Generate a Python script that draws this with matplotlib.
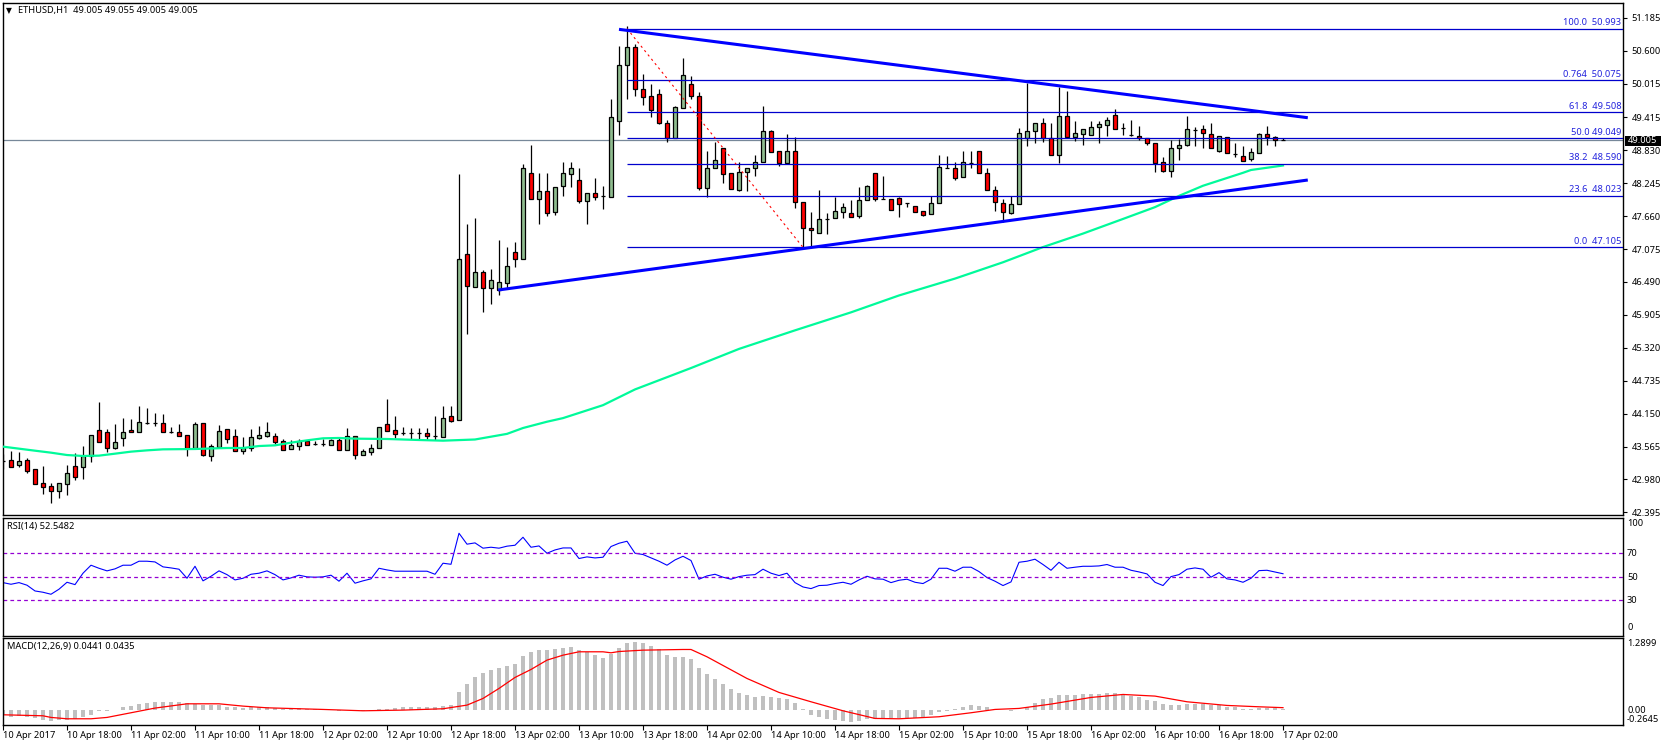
import numpy as np
import matplotlib
matplotlib.use('Agg')
import matplotlib.pyplot as plt
from matplotlib.patches import Rectangle

WIDTH, HEIGHT = 1663, 746
FONT = 'Noto Sans'

# hourly candles, 10 Apr 10:00 to 17 Apr 02:00
open_prices = [
    43.314, 43.32, 43.243, 43.32, 43.16, 42.911, 42.857, 42.78, 42.905, 43.213,
    43.207, 43.397, 43.853, 43.817, 43.545, 43.722, 43.853, 43.817, 43.989, 43.989,
    43.977, 43.829, 43.817, 43.764, 43.545, 43.977, 43.403, 43.562, 43.871, 43.746,
    43.491, 43.539, 43.722, 43.758, 43.746, 43.657, 43.527, 43.58, 43.657, 43.616,
    43.61, 43.598, 43.675, 43.509, 43.746, 43.42, 43.474, 43.545, 43.959, 43.853,
    43.811, 43.8, 43.8, 43.8, 43.758, 43.74, 44.1, 44.03, 46.98, 46.405,
    46.66, 46.388, 46.34, 46.477, 47.016, 46.903, 48.42, 47.97, 48.101, 47.739,
    48.2, 48.415, 48.296, 47.935, 48.065, 48.012, 48.006, 49.357, 50.34, 50.66,
    49.914, 49.789, 49.825, 49.309, 49.043, 49.588, 50.002, 49.789, 48.154, 48.509,
    48.865, 48.42, 48.13, 48.438, 48.509, 48.616, 49.167, 48.812, 48.61, 48.812,
    47.905, 47.443, 47.366, 47.609, 47.621, 47.739, 47.71, 47.668, 47.941, 48.421,
    47.958, 47.958, 47.976, 47.899, 47.834, 47.745, 47.692, 47.893, 48.521, 48.509,
    48.349, 48.61, 48.811, 48.421, 48.118, 47.899, 47.721, 47.869, 49.049, 49.167,
    49.309, 49.043, 48.752, 49.434, 49.072, 49.12, 49.108, 49.238, 49.286, 49.451,
    49.22, 49.102, 49.09, 49.049, 48.954, 48.616, 48.456, 48.865, 48.918, 49.197,
    49.203, 49.114, 48.817, 49.06, 48.758, 48.723, 48.681, 48.788, 49.114, 49.073,
    49.005]
high_prices = [
    43.432, 43.485, 43.468, 43.355, 43.16, 43.219, 42.917, 42.911, 43.231, 43.444,
    43.574, 43.764, 44.356, 43.871, 43.959, 44.072, 44.048, 44.285, 44.25, 44.161,
    44.143, 43.912, 43.959, 43.764, 43.995, 43.977, 43.604, 43.948, 43.871, 43.871,
    43.728, 43.871, 43.93, 44.001, 43.799, 43.693, 43.675, 43.693, 43.681, 43.663,
    43.693, 43.693, 43.74, 43.888, 43.746, 43.515, 43.61, 43.906, 44.41, 44.108,
    43.912, 43.888, 43.888, 43.888, 44.108, 44.285, 44.284, 48.408, 47.519, 47.626,
    46.702, 46.72, 47.235, 47.11, 47.199, 48.586, 48.924, 48.426, 48.42, 48.172,
    48.622, 48.622, 48.515, 48.065, 48.338, 48.19, 49.742, 50.684, 51.039, 50.719,
    50.186, 50.008, 49.914, 49.369, 49.611, 50.471, 50.151, 49.866, 48.82, 48.977,
    48.865, 48.42, 48.622, 48.509, 48.746, 49.617, 49.191, 48.812, 49.12, 49.06,
    47.905, 47.733, 48.124, 47.71, 48.0, 47.887, 47.946, 48.178, 48.213, 48.421,
    48.373, 47.958, 48.006, 47.899, 47.834, 47.745, 48.018, 48.746, 48.729, 48.616,
    48.817, 48.817, 48.811, 48.515, 48.195, 47.958, 48.018, 49.226, 50.032, 49.309,
    49.398, 49.309, 49.961, 49.884, 49.351, 49.203, 49.351, 49.345, 49.416, 49.558,
    49.309, 49.363, 49.262, 49.049, 48.954, 48.705, 49.007, 49.025, 49.44, 49.238,
    49.274, 49.315, 49.078, 49.06, 48.966, 48.907, 48.871, 49.138, 49.262, 49.084,
    49.055]
low_prices = [
    43.171, 43.207, 43.207, 43.10, 42.905, 42.721, 42.561, 42.65, 42.703, 42.97,
    42.988, 43.29, 43.651, 43.468, 43.521, 43.574, 43.817, 43.817, 43.959, 43.936,
    43.829, 43.811, 43.752, 43.397, 43.545, 43.397, 43.308, 43.545, 43.628, 43.491,
    43.432, 43.491, 43.705, 43.734, 43.616, 43.509, 43.515, 43.503, 43.598, 43.598,
    43.574, 43.598, 43.509, 43.509, 43.343, 43.42, 43.414, 43.545, 43.847, 43.711,
    43.776, 43.705, 43.699, 43.699, 43.681, 43.74, 44.0, 44.03, 45.564, 46.405,
    45.955, 46.097, 46.263, 46.376, 46.755, 46.903, 47.97, 47.52, 47.662, 47.68,
    48.018, 48.178, 47.899, 47.52, 47.947, 47.787, 48.006, 49.102, 49.742, 49.795,
    49.635, 49.422, 49.297, 48.977, 49.043, 49.588, 49.748, 48.124, 48.006, 48.509,
    48.249, 48.136, 48.112, 48.106, 48.373, 48.616, 48.806, 48.557, 48.61, 47.804,
    47.117, 47.117, 47.354, 47.342, 47.621, 47.621, 47.65, 47.632, 47.941, 47.929,
    47.958, 47.775, 47.65, 47.828, 47.739, 47.668, 47.692, 47.887, 48.521, 48.308,
    48.349, 48.521, 48.421, 48.118, 47.757, 47.561, 47.698, 47.869, 48.906, 48.966,
    48.977, 48.752, 48.604, 49.072, 48.995, 48.924, 49.108, 48.966, 49.084, 49.214,
    49.102, 49.084, 49.013, 48.93, 48.444, 48.45, 48.355, 48.658, 48.906, 48.906,
    48.871, 48.865, 48.8, 48.776, 48.717, 48.646, 48.646, 48.788, 48.93, 48.907,
    49.005]
close_prices = [
    43.314, 43.207, 43.302, 43.136, 42.905, 42.852, 42.78, 42.911, 43.088, 43.029,
    43.397, 43.764, 43.651, 43.545, 43.639, 43.817, 43.817, 43.995, 43.989, 43.989,
    43.829, 43.829, 43.758, 43.545, 43.959, 43.42, 43.568, 43.835, 43.693, 43.491,
    43.539, 43.728, 43.764, 43.817, 43.651, 43.509, 43.598, 43.663, 43.598, 43.616,
    43.61, 43.675, 43.509, 43.746, 43.42, 43.48, 43.533, 43.906, 43.847, 43.794,
    43.811, 43.8, 43.8, 43.758, 43.758, 44.066, 44.024, 46.891, 46.423, 46.66,
    46.388, 46.518, 46.483, 46.767, 46.903, 48.509, 47.97, 48.101, 47.721, 48.172,
    48.42, 48.509, 47.935, 48.065, 48.006, 48.012, 49.416, 50.34, 50.66, 49.914,
    49.783, 49.552, 49.321, 49.043, 49.594, 50.162, 49.789, 48.166, 48.509, 48.652,
    48.415, 48.136, 48.438, 48.509, 48.616, 49.167, 48.806, 48.61, 48.812, 47.917,
    47.443, 47.407, 47.603, 47.609, 47.745, 47.816, 47.65, 47.941, 48.19, 47.958,
    47.958, 47.775, 47.881, 47.899, 47.739, 47.686, 47.887, 48.527, 48.521, 48.343,
    48.616, 48.61, 48.421, 48.118, 47.905, 47.727, 47.869, 49.131, 49.167, 49.309,
    49.043, 48.752, 49.434, 49.072, 49.131, 49.203, 49.238, 49.291, 49.363, 49.214,
    49.22, 49.102, 49.049, 48.954, 48.61, 48.468, 48.865, 48.918, 49.203, 49.197,
    49.143, 48.865, 49.078, 48.776, 48.758, 48.646, 48.794, 49.114, 49.067, 49.007,
    49.005]

ma_bars = [0, 2, 4, 6, 8, 10, 12, 14, 16, 18, 20, 24, 28, 30, 32, 34, 36, 38, 40, 42,
           44, 48, 52, 55, 59, 63, 65, 68, 70, 75, 79, 86, 92, 99, 106, 112, 119, 125,
           130, 135, 140, 144, 147, 150, 155, 156, 160]
ma_values = [43.563, 43.527, 43.491, 43.456, 43.414, 43.397, 43.403, 43.438, 43.474,
             43.497, 43.515, 43.521, 43.539, 43.539, 43.574, 43.586, 43.634, 43.675,
             43.711, 43.717, 43.705, 43.699, 43.681, 43.669, 43.69, 43.79, 43.894,
             44.006, 44.07, 44.3, 44.58, 44.96, 45.30, 45.63, 45.95, 46.25, 46.55, 46.84,
             47.11, 47.35, 47.61, 47.82, 48.02, 48.2, 48.43, 48.48, 48.56]

fib_levels = [50.993, 50.075, 49.508, 49.049, 48.590, 48.023, 47.105]
fib_labels = ['100.0  50.993', '0.764  50.075', '61.8  49.508', '50.0 49.049',
              '38.2  48.590', '23.6  48.023', '0.0  47.105']
price_ticks = [51.185, 50.600, 50.015, 49.415, 48.830, 48.245, 47.660, 47.075, 46.490,
               45.905, 45.320, 44.735, 44.150, 43.565, 42.980, 42.395]
last_price = 49.005

rsi_values = [
    45.0, 43.6, 45.0, 42.8, 37.9, 36.8, 35.1, 39.4, 45.3, 43.3,
    53.0, 59.8, 57.2, 55.0, 56.7, 59.8, 59.8, 63.2, 63.2, 62.6,
    58.4, 57.5, 56.4, 48.7, 58.9, 46.5, 50.4, 55.0, 51.8, 47.3,
    48.7, 52.1, 53.0, 55.0, 51.8, 47.3, 49.0, 51.3, 49.9, 49.6,
    49.9, 51.3, 46.2, 53.0, 44.5, 46.5, 48.2, 57.2, 55.8, 54.7,
    54.7, 54.7, 54.7, 54.7, 52.1, 61.5, 60.6, 87.0, 77.7, 78.8,
    74.3, 75.1, 74.3, 76.0, 76.8, 83.6, 75.1, 76.2, 70.0, 72.8,
    74.5, 74.5, 65.5, 66.9, 66.0, 66.6, 75.7, 78.5, 80.2, 70.0,
    68.9, 66.0, 63.2, 59.8, 64.3, 67.4, 63.8, 47.9, 50.7, 52.1,
    49.6, 47.9, 50.1, 51.3, 51.8, 56.4, 53.0, 51.0, 53.0, 45.0,
    41.3, 39.9, 42.5, 42.8, 44.2, 45.3, 43.6, 47.3, 50.4, 48.2,
    47.9, 45.0, 47.0, 47.9, 45.3, 44.2, 47.9, 57.2, 57.2, 54.7,
    58.1, 58.1, 54.4, 49.3, 46.2, 42.5, 45.6, 62.3, 63.2, 64.9,
    60.4, 55.5, 62.3, 57.2, 58.1, 58.9, 58.9, 59.2, 60.4, 58.1,
    58.1, 55.5, 54.1, 52.4, 45.3, 42.5, 50.1, 51.8, 56.4, 57.5,
    56.4, 49.6, 53.5, 48.2, 47.3, 45.3, 48.7, 55.2, 55.5, 54.0,
    52.55]
rsi_levels = [70, 50, 30]

macd_hist = [
    -.077, -.118, -.107, -.118, -.142, -.178, -.189, -.178, -.178, -.154,
    -.130, -.095, -.024, -.012, 0.0, .053, .071, .107, .118, .142,
    .142, .142, .142, .118, .112, .089, .083, .095, .059, .047,
    .036, .047, .059, .047, .036, .012, .024, .030, .024, .024,
    .024, 0.0, -.012, 0.0, -.012, -.024, -.012, .012, .024, .036,
    .047, .053, .053, .047, .047, .071, .083, .320, .462, .586,
    .651, .710, .746, .781, .817, .959, 1.030, 1.065, 1.065, 1.083,
    1.101, 1.118, 1.065, 1.041, .976, .923, 1.0, 1.101, 1.189, 1.207,
    1.189, 1.136, 1.077, .976, .941, .941, .905, .746, .639, .550,
    .462, .373, .302, .266, .231, .243, .231, .213, .195, .124,
    .012, -.083, -.130, -.166, -.178, -.189, -.207, -.189, -.154, -.154,
    -.142, -.142, -.142, -.142, -.142, -.130, -.095, -.036, -.024, .024,
    .059, .083, .071, .047, .024, 0.0, -.024, 0.0, .047, .130,
    .195, .213, .266, .260, .260, .284, .284, .284, .308, .296,
    .284, .249, .225, .178, .160, .107, .095, .095, .107, .107,
    .107, .095, .083, .059, .047, .012, .012, .036, .036, .036,
    .024]
signal_bars = [0, 5, 6, 8, 11, 13, 16, 19, 23, 27, 30, 33, 40, 45, 50, 55, 58, 60, 62,
               64, 66, 68, 70, 72, 75, 76, 77, 80, 85, 86, 88, 93, 97, 101, 105, 109,
               112, 117, 121, 124, 127, 131, 136, 140, 144, 148, 153, 157, 160]
signal_values = [-.083, -.101, -.130, -.154, -.154, -.130, -.047, .036, .112, .112,
                 .071, .041, .012, -.012, 0.0, .024, .089, .207, .385, .580, .722,
                 .888, .976, 1.036, 1.036, 1.018, 1.041, 1.065, 1.077, 1.077, .947,
                 .562, .314, .148, -.012, -.148, -.154, -.118, -.047, .012, .030,
                 .107, .225, .278, .249, .148, .083, .059, .0435]

date_labels = ['10 Apr 2017', '10 Apr 18:00', '11 Apr 02:00', '11 Apr 10:00', '11 Apr 18:00',
               '12 Apr 02:00', '12 Apr 10:00', '12 Apr 18:00', '13 Apr 02:00', '13 Apr 10:00',
               '13 Apr 18:00', '14 Apr 02:00', '14 Apr 10:00', '14 Apr 18:00', '15 Apr 02:00',
               '15 Apr 10:00', '15 Apr 18:00', '16 Apr 02:00', '16 Apr 10:00', '16 Apr 18:00',
               '17 Apr 02:00']

plt.rcParams['font.family'] = [FONT, 'DejaVu Sans']
fig = plt.figure(figsize=(WIDTH / 100, HEIGHT / 100), dpi=100)


def pane(top, bottom, ylim):
    ax = fig.add_axes([2.5 / WIDTH, 1 - bottom / HEIGHT, 1620.5 / WIDTH, (bottom - top) / HEIGHT])
    ax.set_xlim(-0.0625, 202.5)
    ax.set_ylim(*ylim)
    ax.set_xticks([])
    ax.set_yticks([])
    for s in ax.spines.values():
        s.set_linewidth(1.0)
    return ax


def label(x, y, text, **kw):
    kw.setdefault('fontsize', 6.7)
    kw.setdefault('va', 'center')
    kw.setdefault('color', 'black')
    return fig.text(x / WIDTH, 1 - y / HEIGHT, text, **kw)


ax = pane(2.5, 515, (42.348, 51.457))
rsi_ax = pane(517.5, 635.5, (0, 100.4))
macd_ax = pane(637.5, 725, (-0.2645, 1.2899))

# candles
bars = np.arange(len(open_prices))
opens = np.array(open_prices)
closes = np.array(close_prices)
body_colors = np.where(closes >= opens, '#8FBC8F', '#FF0000')
ax.vlines(bars, low_prices, high_prices, color='black', linewidth=0.9, zorder=2)
ax.bar(bars, closes - opens, bottom=opens, width=0.5, color=body_colors,
       edgecolor='black', linewidth=0.9, zorder=3)

# moving average, fib levels and trend lines
ax.plot(ma_bars, ma_values, color='#00FA9A', linewidth=1.6, zorder=4)
ax.axhline(last_price, color='#778899', linewidth=0.9, zorder=1)
ax.hlines(fib_levels, 78, 202.5, color='#0000CD', linewidth=0.9, zorder=5)
ax.plot([78, 100], [fib_levels[0], fib_levels[-1]], color='red', linewidth=0.8,
        linestyle=(0, (2, 3)), zorder=5)
ax.plot([77, 163.1], [50.98, 49.409], color='#0000FF', linewidth=2.2, zorder=6,
        solid_capstyle='butt')
ax.plot([61.9, 163.1], [46.347, 48.302], color='#0000FF', linewidth=2.2, zorder=6,
        solid_capstyle='butt')

for level, text in zip(fib_levels, fib_labels):
    ax.annotate(text, (202.3, level), xytext=(0, 1), textcoords='offset points',
                ha='right', va='bottom', fontsize=6.7, color='#2222DD')

ax.yaxis.tick_right()
ax.set_yticks(price_ticks, [f'{p:.3f}' for p in price_ticks], fontsize=6.7)
ax.tick_params(axis='y', direction='out', length=3, width=0.8, pad=3)

label(6, 11, '▼', fontsize=5.5, family=['DejaVu Sans'])
label(18, 11, 'ETHUSD,H1  49.005 49.055 49.005 49.005')

# current price tag
fig.add_artist(Rectangle((1625 / WIDTH, 1 - 146 / HEIGHT), 36 / WIDTH, 10 / HEIGHT,
                         transform=fig.transFigure, facecolor='black', edgecolor='none',
                         zorder=9))
label(1643, 140.5, f'{last_price:.3f}', color='white', ha='center', zorder=10)

# RSI
rsi_ax.plot(np.arange(len(rsi_values)), rsi_values, color='#0000FF', linewidth=0.8)
rsi_ax.hlines(rsi_levels, -0.0625, 202.5, color='#9400D3', linewidth=0.9,
              linestyle=(0, (3, 2.5)))
label(7, 527, 'RSI(14) 52.5482')
for text, y in [('100', 524), ('70', 553.3), ('50', 577.3), ('30', 600.3), ('0', 628)]:
    label(1627, y, text)

# MACD
macd_ax.bar(np.arange(len(macd_hist)), macd_hist, width=0.4, color='#C0C0C0')
macd_ax.plot(signal_bars, signal_values, color='#FF0000', linewidth=0.9)
label(7, 647, 'MACD(12,26,9) 0.0441 0.0435')
for text, y in [('1.2899', 644), ('0.00', 710.5), ('-0.2645', 719)]:
    label(1627, y, text)

# date axis, labels start at the tick
macd_ax.set_xticks(np.arange(0, 161, 8))
macd_ax.set_xticklabels([])
macd_ax.tick_params(axis='x', direction='out', length=3.5, width=0.8)
for i, text in enumerate(date_labels):
    label(3 + 8 * 8 * i, 735, text)

fig.savefig('out.png', dpi=100, facecolor='white')
